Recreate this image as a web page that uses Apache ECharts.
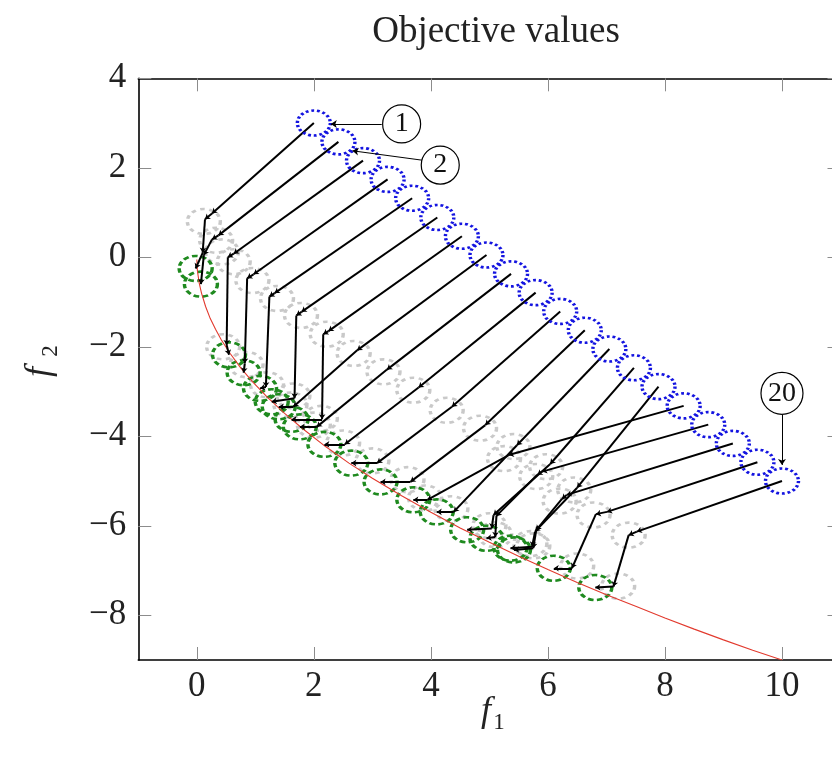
<!DOCTYPE html>
<html><head><meta charset="utf-8">
<script src="https://cdn.jsdelivr.net/npm/echarts@6/dist/echarts.min.js"></script>
<style>html,body{margin:0;padding:0;background:#fff}#c{width:832px;height:761px}</style>
</head><body><div id="c"></div>
<script>
const chartTitle = 'Objective values';
const xTicks = [0, 2, 4, 6, 8, 10];
const yTicks = [-8, -6, -4, -2, 0, 2, 4];

// blue starting points (20)
const startF1 = [2.00, 2.42, 2.84, 3.26, 3.68, 4.11, 4.53, 4.95, 5.37, 5.79, 6.21, 6.63, 7.05, 7.47, 7.89, 8.32, 8.74, 9.16, 9.58, 10.00];
const startF2 = [3.00, 2.58, 2.16, 1.74, 1.32, 0.89, 0.47, 0.05, -0.37, -0.79, -1.21, -1.63, -2.05, -2.47, -2.89, -3.32, -3.74, -4.16, -4.58, -5.00];

// iterate paths after the starting point (one per start)
const pathsAfterStart = [
  [[0.26, 0.98], [0.14, 0.85], [0.10, 0.10], [-0.02, -0.25]],
  [[0.37, 0.49], [0.26, 0.40], [0.12, 0.05], [0.07, -0.60]],
  [[0.63, 0.08], [0.53, 0.00], [0.51, -1.96], [0.55, -2.18]],
  [[0.97, -0.38], [0.86, -0.47], [0.82, -2.37], [0.80, -2.58]],
  [[1.33, -0.80], [1.24, -0.88], [1.18, -2.90], [1.08, -2.93]],
  [[1.79, -1.22], [1.70, -1.30], [1.67, -3.15], [1.28, -3.23]],
  [[2.25, -1.65], [2.16, -1.72], [2.14, -3.62], [1.62, -3.62]],
  [[2.74, -2.08], [1.65, -3.34], [1.40, -3.34]],
  [[3.25, -2.51], [2.05, -3.79], [1.76, -3.79]],
  [[3.79, -2.91], [2.53, -4.18], [2.18, -4.18]],
  [[4.36, -3.34], [3.08, -4.60], [2.64, -4.60]],
  [[4.93, -3.75], [3.65, -5.02], [3.14, -5.02]],
  [[5.47, -4.20], [4.39, -5.69], [4.10, -5.69]],
  [[6.04, -4.62], [5.07, -5.76], [5.04, -6.06], [4.62, -6.09]],
  [[6.50, -5.15], [5.78, -6.13], [5.73, -6.47], [5.36, -6.50]],
  [[5.33, -4.42], [3.94, -5.42], [3.70, -5.42]],
  [[5.90, -4.79], [5.82, -4.86], [5.12, -5.78], [5.10, -6.25], [4.95, -6.28]],
  [[6.32, -5.31], [6.24, -5.40], [5.80, -6.10], [5.75, -6.50], [5.42, -6.54]],
  [[7.01, -5.69], [6.82, -5.74], [6.41, -6.95], [6.10, -6.95]],
  [[7.52, -6.13], [7.38, -6.21], [7.12, -7.36], [6.81, -7.38]]
];

// grey intermediate iterates
const greyPoints = [
  [0.12, 0.80], [0.33, 0.38], [0.43, 0.12], [0.63, -0.10], [0.45, -2.00], [0.95, -0.52], [0.85, -2.40],
  [1.37, -0.92], [1.20, -2.85], [1.78, -1.30], [1.65, -3.10], [2.22, -1.72], [2.12, -3.60],
  [2.68, -2.15], [1.60, -3.30], [3.19, -2.56], [2.00, -3.75], [3.70, -2.97], [2.50, -4.15],
  [4.27, -3.42], [3.00, -4.55], [4.84, -3.82], [3.60, -4.97], [5.41, -4.23], [4.35, -5.62],
  [5.97, -4.68], [5.00, -6.00], [6.45, -5.20], [5.70, -6.40], [5.25, -4.50], [3.90, -5.38],
  [5.80, -4.90], [5.10, -6.20], [6.20, -5.45], [5.75, -6.45], [6.78, -5.76], [6.50, -6.90],
  [7.38, -6.21], [7.20, -7.35]
];

// Pareto front (red curve)
const frontF1 = [0.00, 0.01, 0.04, 0.08, 0.15, 0.23, 0.32, 0.42, 0.57, 0.75, 0.95, 1.20, 1.50, 1.80, 2.20, 2.60, 3.00, 3.50, 4.00, 4.50, 5.00, 5.50, 6.00, 6.50, 7.00, 7.50, 8.00, 8.50, 9.00, 9.50, 10.00];
const frontF2 = [-0.05, -0.30, -0.57, -0.80, -1.10, -1.37, -1.61, -1.85, -2.15, -2.47, -2.78, -3.12, -3.49, -3.82, -4.23, -4.60, -4.94, -5.33, -5.70, -6.05, -6.37, -6.68, -6.98, -7.27, -7.54, -7.80, -8.06, -8.31, -8.55, -8.78, -9.00];

// callout labels: text, circle centre, arrow from, arrow to
const calloutText = ['1', '2', '20'];
const calloutCentre = [[3.50, 2.98], [4.16, 2.06], [10.00, -3.04]];
const calloutFrom = [[3.16, 2.98], [3.85, 2.17], [10.00, -3.52]];
const calloutTo = [[2.29, 2.98], [2.66, 2.38], [10.00, -4.64]];

const serif = 'Liberation Serif';
const minusFmt = v => (v < 0 ? '\u2212' + (-v) : String(v));

const starts = startF1.map((x, i) => [x, startF2[i]]);
const segments = [];
pathsAfterStart.forEach((p, i) => {
  const full = [starts[i]].concat(p);
  for (let k = 0; k < full.length - 1; k++) segments.push({ coords: [full[k], full[k + 1]] });
});
const finals = pathsAfterStart.map(p => p[p.length - 1]);
const front = frontF1.map((x, i) => [x, frontF2[i]]);

const circleSize = [33, 25];
function ring(data, color, dash, z) {
  return {
    type: 'scatter', data, symbol: 'circle', symbolSize: circleSize, z, silent: true,
    itemStyle: { color: 'rgba(0,0,0,0)', borderColor: color, borderWidth: 3, borderType: dash, opacity: 1 }
  };
}

const tickStyle = { color: '#8c8c8c', width: 1 };
const axisLineStyle = { color: '#000', width: 1.6 };

const chart = echarts.init(document.getElementById('c'), null, { renderer: 'canvas' });
chart.setOption({
  animation: false,
  backgroundColor: '#fff',
  title: {
    text: chartTitle, left: 491, top: 9, textAlign: 'center',
    textStyle: { fontFamily: serif, fontSize: 37, fontWeight: 'normal', color: '#222' }
  },
  grid: { left: 138.3, top: 78.3, width: 702.2, height: 581.7, containLabel: false, outerBoundsMode: 'none' },
  xAxis: [
    {
      type: 'value', min: -1, max: 11, position: 'bottom',
      axisLine: { show: true, onZero: false, lineStyle: axisLineStyle },
      axisTick: { show: true, inside: true, length: 13, customValues: xTicks, lineStyle: tickStyle },
      axisLabel: { customValues: xTicks, formatter: minusFmt, fontFamily: serif, fontSize: 35, color: '#222', margin: 9 },
      splitLine: { show: false }
    },
    {
      type: 'value', min: -1, max: 11, position: 'top',
      axisLine: { show: true, onZero: false, lineStyle: axisLineStyle },
      axisTick: { show: true, inside: true, length: 13, customValues: xTicks, lineStyle: tickStyle },
      axisLabel: { show: false }, splitLine: { show: false }
    }
  ],
  yAxis: [
    {
      type: 'value', min: -9, max: 4, position: 'left',
      axisLine: { show: true, onZero: false, lineStyle: axisLineStyle },
      axisTick: { show: true, inside: true, length: 13, customValues: yTicks, lineStyle: tickStyle },
      axisLabel: { customValues: yTicks, formatter: minusFmt, fontFamily: serif, fontSize: 35, color: '#222', margin: 12 },
      splitLine: { show: false }
    },
    {
      type: 'value', min: -9, max: 4, position: 'right',
      axisLine: { show: true, onZero: false, lineStyle: axisLineStyle },
      axisTick: { show: true, inside: true, length: 13, customValues: yTicks, lineStyle: tickStyle },
      axisLabel: { show: false }, splitLine: { show: false }
    }
  ],
  graphic: [
    { type: 'text', x: 486, y: 712, style: { text: 'f', font: 'italic 36px "Liberation Serif"', fill: '#222', align: 'center', verticalAlign: 'middle' } },
    { type: 'text', x: 499, y: 723, style: { text: '1', font: '23px "Liberation Serif"', fill: '#222', align: 'center', verticalAlign: 'middle' } },
    { type: 'text', x: 40, y: 372, rotation: Math.PI / 2, style: { text: 'f', font: 'italic 36px "Liberation Serif"', fill: '#222', align: 'center', verticalAlign: 'middle' } },
    { type: 'text', x: 51, y: 351, rotation: Math.PI / 2, style: { text: '2', font: '23px "Liberation Serif"', fill: '#222', align: 'center', verticalAlign: 'middle' } }
  ],
  series: [
    ring(greyPoints, '#c9c9c9', [4, 4], 2),
    ring(finals, '#1f8a1f', [5, 3], 3),
    {
      type: 'line', data: front, showSymbol: false, symbol: 'none', z: 4, silent: true,
      lineStyle: { color: '#e23a2e', width: 1.1 }
    },
    {
      type: 'lines', coordinateSystem: 'cartesian2d', data: segments, z: 5, silent: true,
      symbol: ['none', 'arrow'], symbolSize: 5,
      lineStyle: { color: '#000', width: 2, opacity: 1 }
    },
    ring(starts, '#1414e0', [2.5, 2.5], 6),
    {
      type: 'lines', coordinateSystem: 'cartesian2d', z: 7, silent: true,
      data: calloutFrom.map((f, i) => ({ coords: [f, calloutTo[i]] })),
      symbol: ['none', 'arrow'], symbolSize: 6,
      lineStyle: { color: '#000', width: 1, opacity: 1 }
    },
    {
      type: 'scatter', z: 8, silent: true, symbol: 'circle',
      data: calloutCentre.map((c, i) => ({ value: c, symbolSize: calloutText[i].length > 1 ? 42 : 38, label: { formatter: calloutText[i] } })),
      itemStyle: { color: '#fff', borderColor: '#000', borderWidth: 1.2, opacity: 1 },
      label: { show: true, position: 'inside', fontFamily: serif, fontSize: 28, color: '#111' }
    }
  ]
});
</script>
</body></html>
